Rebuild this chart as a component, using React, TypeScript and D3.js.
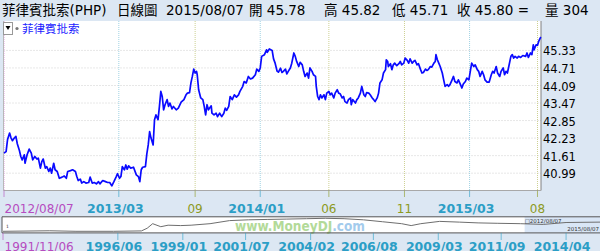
import React from 'react';
import * as d3 from 'd3';

// ---------- main series (trading-session index, close) ----------
const sessions = [0,3,5,8,10,12,15,17,19,22,24,26,29,30,33,36,39,41,44,47,49,52,54,56,59,61,64,66,68,71,73,76,79,83,86,89,91,95,98,102,104,106,109,111,114,117,121,123,126,129,132,135,137,141,145,148,151,154,157,160,162,165,167,169,172,174,176,178,181,185,189,192,194,196,198,202,204,206,208,210,213,215,217,220,222,224,226,228,230,233,235,237,240,242,246,249,253,257,260,262,265,267,269,271,273,275,276,278,281,284,286,288,290,292,296,297,300,303,305,308,311,314,316,318,321,323,326,329,332,335,337,341,343,346,349,352,355,359,361,364,366,368,372,375,376,379,383,385,387,390,392,395,397,399,402,404,406,409,411,414,416,418,421,423,426,428,430,433,435,437,440,442,445,446,448,450,452,454,457,459,461,464,466,468,471,473,476,478,480,483,485,487,490,492,495,496,498,502,504,506,509,511,514,516,518,521,523,526,528,530,533,535,537,540,542,545,546,548,549,552,554,556,558,561,564,566,568,571,573,576,578,580,583,585,587,590,592,595,597,599,602,604,606,609,611,614,616,617,619,621,623,626,628,630,633,635,637,640,642,644,647,649,652,654,656,659,661,664,666,668,671,673,676,678,680,683,685,687,690,693,696,698,700,703,705,708,710,713,715,717,719,721,724,726,728,730,733,735,738,741,745,747,749,752,754,756,757,760,762,764,766,767];
const closes = [41.70,41.75,42.17,42.41,42.24,42.14,42.24,42.29,42.03,41.79,41.58,41.46,41.64,41.34,41.64,41.84,41.70,41.46,41.58,41.49,41.52,41.17,41.40,41.49,41.17,41.22,41.05,41.17,40.99,41.34,41.11,41.05,40.81,40.85,40.89,40.81,41.05,41.08,41.11,41.05,40.87,40.73,40.78,40.64,40.69,40.64,40.66,40.85,40.64,40.66,40.61,40.69,40.61,40.73,40.69,40.66,40.66,40.54,40.69,40.85,40.97,40.81,40.87,41.22,41.11,41.28,41.13,41.25,41.17,41.20,40.93,40.87,40.69,41.11,41.20,41.22,41.67,41.99,42.46,42.23,41.99,42.88,43.05,42.88,43.35,43.88,43.70,43.23,43.41,43.59,43.35,43.47,43.26,43.35,43.23,43.29,43.50,43.59,43.76,43.82,43.84,44.18,44.41,44.67,44.53,44.59,44.47,43.94,43.65,43.59,43.35,43.05,43.41,43.23,43.37,43.11,43.05,43.11,42.99,43.11,42.99,43.11,43.29,43.21,43.35,43.70,43.59,43.76,43.68,43.76,43.88,44.06,44.23,44.18,44.41,44.32,44.35,44.47,44.67,44.59,44.71,45.12,45.18,45.35,45.26,45.38,45.33,45.03,44.90,44.60,44.56,44.70,44.55,44.59,44.67,44.50,44.59,44.71,44.88,45.24,45.12,44.94,44.76,44.91,44.82,44.59,44.41,44.53,44.35,44.71,44.59,44.47,44.41,44.06,43.70,43.59,43.76,43.65,43.76,43.59,43.82,43.88,43.76,43.82,43.65,43.82,43.94,43.82,43.80,43.65,43.70,43.52,43.47,43.59,43.65,43.41,43.59,43.47,43.59,43.65,43.82,44.06,43.76,43.70,43.84,43.82,43.76,43.65,43.59,43.52,43.65,43.82,44.18,44.29,44.53,44.65,45.00,44.94,44.76,44.86,44.65,44.82,44.88,44.79,44.86,44.94,44.82,44.88,45.06,44.98,44.88,45.03,44.88,44.94,44.98,44.82,44.86,44.65,44.53,44.55,44.67,44.62,44.65,44.76,44.74,44.88,44.94,45.18,45.00,44.88,44.76,44.53,44.29,44.06,44.12,44.06,44.12,44.29,44.41,44.23,44.18,44.29,44.12,44.00,44.14,44.23,44.35,44.29,44.59,44.88,44.76,44.82,44.65,44.59,44.41,44.59,44.47,44.29,44.21,44.21,44.47,44.59,44.53,44.76,44.53,44.41,44.59,44.71,44.47,44.59,44.53,44.76,45.12,45.18,45.06,45.12,45.06,45.12,45.08,45.15,45.12,45.24,45.08,45.24,45.18,45.53,45.35,45.53,45.51,45.67,45.77,45.80];

const lastSession = 767;
const yDomain = [40.37, 46.37];
const yTicks = [40.99, 41.61, 42.23, 42.85, 43.47, 44.09, 44.71, 45.33];

const xTickSessions = [0, 164, 273, 366, 464, 572, 665, 762];
const xTickLabels = ['2012/08/07', '2013/03', '09', '2014/01', '06', '11', '2015/03', '08'];
const xTickKinds = ['start', 'year', 'month', 'year', 'month', 'month', 'year', 'month'];

// ---------- header ----------
const seriesName = '菲律賓批索';
const symbol = 'PHP';
const quoteDate = '2015/08/07';
const openV = '45.78';
const highV = '45.82';
const lowV = '45.71';
const closeV = '45.80';
const volume = '304';

// ---------- navigator (long history) ----------
const navDates = ['1991-11-06','1993-09-15','1994-10-01','1996-04-01','1997-05-10','1997-08-01','1997-10-20','1998-02-15','1998-06-01','1998-12-01','1999-05-01','2000-02-01','2000-11-10','2001-08-10','2002-05-20','2003-02-20','2003-12-01','2004-09-01','2005-06-01','2006-03-10','2006-12-10','2007-09-15','2008-02-01','2008-06-20','2009-03-20','2010-01-01','2010-10-01','2011-07-05','2012-06-05','2013-05-05','2014-04-01','2015-08-07'];
const navValues = [26.0,27.2,26.0,26.0,26.9,33.1,43.6,36.6,40.1,39.2,40.1,43.6,50.7,52.5,53.4,54.2,55.1,56.0,55.1,52.5,48.1,43.6,39.2,43.6,48.9,47.2,45.4,44.5,43.6,41.9,46.3,47.2];
const navStart = '1991-11-06';
const navEnd = '2015-08-07';
const navTickDates = ['1996-06-01','1999-01-01','2001-07-01','2004-02-01','2006-08-01','2009-03-01','2011-09-01','2014-04-01'];
const navTickLabels = ['1996/06','1999/01','2001/07','2004/02','2006/08','2009/03','2011/09','2014/04'];
const navStartLabel = '1991/11/06';
const selStart = '2012-08-07';
const selStartLabel = '2012/08/07';
const selEndLabel = '2015/08/07';

const FONT = "'DejaVu Sans', 'Noto Sans CJK TC', sans-serif";
const BG = '#dce7f3';
const kindColor: Record<string, string> = { start: '#b64cc0', year: '#2b9ec6', month: '#8c9a1e' };
const kindGrid: Record<string, string> = { start: '#e59ae8', year: '#9fd2e3', month: '#cdd092' };

export default function App() {
  const W = 600, H = 251;
  const plotL = 3.5, plotR = 541, plotT = 21, plotB = 190.5;

  const x = d3.scaleLinear().domain([0, lastSession]).range([4, 541]);
  const y = d3.scaleLinear().domain(yDomain).range([190.7, 21]);
  const pts = sessions.map((s, i) => [x(s), y(closes[i])] as [number, number]);
  const linePath = d3.line()(pts) || '';

  const parse = d3.timeParse('%Y-%m-%d');
  const nx = d3.scaleTime().domain([parse(navStart)!, parse(navEnd)!]).range([3, 600]);
  const navT = 216.8, navB = 232.9;
  const ny = d3.scaleLinear().domain([26, 56]).range([231.3, 218.3]);
  const navPath = d3.line()(navDates.map((d, i) => [nx(parse(d)!), ny(navValues[i])] as [number, number])) || '';
  const selX = nx(parse(selStart)!);

  const header: [string, number][] = [
    [`${seriesName}(${symbol})`, 2],
    ['日線圖', 117],
    [quoteDate, 166],
    [`開 ${openV}`, 249],
    [`高 ${highV}`, 324],
    [`低 ${lowV}`, 392],
    [`收 ${closeV} =`, 457],
    [`量 ${volume}`, 545],
  ];

  return (
    <svg width={W} height={H} style={{ position: 'fixed', left: 0, top: 0, display: 'block' }} fontFamily={FONT}>
      <rect x={0} y={0} width={W} height={H} fill={BG} />
      {/* header */}
      {header.map(([t, hx], i) => (
        <text key={i} x={hx} y={15} fontSize={13.5} fill="#000">{t}</text>
      ))}
      {/* plot background */}
      <rect x={plotL} y={plotT} width={plotR - plotL} height={plotB - plotT} fill="#fff" />
      {/* horizontal grid */}
      {yTicks.map((v) => (
        <line key={v} x1={plotL} x2={plotR} y1={y(v)} y2={y(v)} stroke="#cfcfcf" strokeDasharray="1,2" />
      ))}
      {/* vertical grid */}
      {xTickSessions.map((s, i) => (
        <line key={s} x1={x(s)} x2={x(s)} y1={plotT} y2={plotB} stroke={kindGrid[xTickKinds[i]]} strokeDasharray="1,1" />
      ))}
      {/* border */}
      <line x1={plotL} x2={plotL} y1={plotT} y2={plotB} stroke="#b8b8b8" />
      <line x1={plotR} x2={plotR} y1={plotT} y2={plotB} stroke="#808080" />
      <line x1={plotL} x2={plotR} y1={plotB} y2={plotB} stroke="#a8a8a8" />
      {/* series */}
      <path d={linePath} fill="none" stroke="#0a0aff" strokeWidth={1.7} strokeLinejoin="round" />
      {/* legend */}
      <rect x={3.5} y={22.5} width={9} height={12} fill="#fff" stroke="#999" />
      <path d="M5.5,26 L10.5,26 L8,30 Z" fill="#000" />
      <circle cx={17} cy={28.5} r={1.6} fill="#777" />
      <text x={22} y={32.5} fontSize={11.5} fill="#1a1aff">{seriesName}</text>
      {/* y labels */}
      {yTicks.map((v) => (
        <text key={v} x={543} y={y(v) + 1} dy="0.35em" fontSize={11.5} fill="#000">{v.toFixed(2)}</text>
      ))}
      {/* x ticks + labels */}
      {xTickSessions.map((s, i) => {
        const k = xTickKinds[i];
        const tx = x(s);
        return (
          <g key={s}>
            <line x1={tx} x2={tx} y1={plotB} y2={197} stroke={kindColor[k]} strokeOpacity={0.6} />
            <text
              x={k === 'start' ? tx + 0.5 : k === 'year' ? tx - 3.5 : tx}
              y={213}
              fontSize={k === 'year' ? 12.5 : 12}
              fontWeight={k === 'year' ? 'bold' : 'normal'}
              textAnchor={k === 'start' ? 'start' : 'middle'}
              fill={kindColor[k]}
            >{xTickLabels[i]}</text>
          </g>
        );
      })}
      {/* navigator */}
      <rect x={2} y={navT} width={W} height={navB - navT} fill="#fff" />
      <rect x={selX} y={navT} width={W - selX} height={navB - navT} fill="#c9dcf2" opacity={0.7} />
      <path d={navPath} fill="none" stroke="#6e6e6e" strokeWidth={1} />
      <text x={235} y={231} fontSize={14} fontWeight="bold" textLength={130} lengthAdjust="spacingAndGlyphs" opacity={0.85}>
        <tspan fill="#a6d487">www.MoneyDJ</tspan><tspan fill="#93c3ea">.com</tspan>
      </text>
      <text x={selX} y={222.5} fontSize={5.5} fill="#333">□{selStartLabel}</text>
      <text x={599} y={231} fontSize={5.5} fill="#333" textAnchor="end">{selEndLabel}</text>
      <text x={6} y={228} fontSize={4.5} fill="#333">1</text>
      <line x1={2} x2={W} y1={navT} y2={navT} stroke="#555" />
      <line x1={2} x2={W} y1={navB} y2={navB} stroke="#555" />
      <line x1={2} x2={2} y1={navT} y2={navB} stroke="#555" />
      {/* navigator axis */}
      <line x1={nx(parse(navStart)!)} x2={nx(parse(navStart)!)} y1={navB} y2={240} stroke={kindColor.start} strokeOpacity={0.6} />
      <text x={4.5} y={250.5} fontSize={12} fill={kindColor.start}>{navStartLabel}</text>
      {navTickDates.map((d, i) => {
        const tx = nx(parse(d)!);
        return (
          <g key={d}>
            <line x1={tx} x2={tx} y1={navB} y2={240} stroke={kindColor.year} strokeOpacity={0.6} />
            <text x={tx - 4} y={250.5} fontSize={12.5} fontWeight="bold" textAnchor="middle" fill={kindColor.year}>{navTickLabels[i]}</text>
          </g>
        );
      })}
    </svg>
  );
}
